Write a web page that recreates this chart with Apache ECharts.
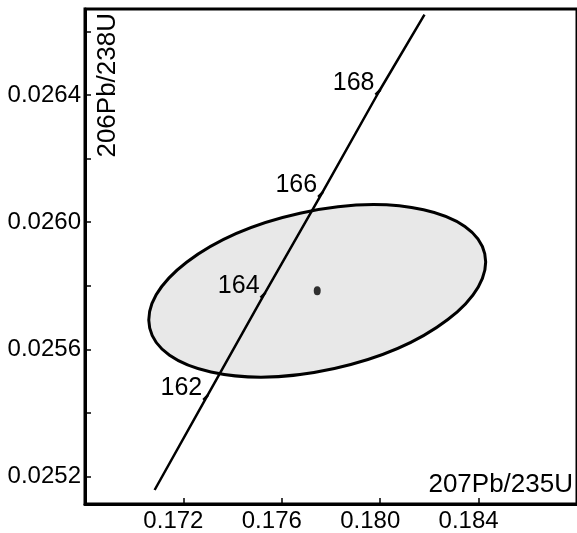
<!DOCTYPE html>
<html>
<head>
<meta charset="utf-8">
<script src="https://cdn.jsdelivr.net/npm/echarts@6/dist/echarts.min.js"></script>
<style>
  html, body { margin: 0; padding: 0; background: #fff; }
  #main { width: 577px; height: 533px; }
</style>
</head>
<body>
<div id="main"></div>
<script>
// concordia line (207Pb/235U, 206Pb/238U)
let lineX = [0.17083, 0.17297, 0.17530, 0.17764, 0.17997, 0.18180];
let lineY = [0.025158, 0.025454, 0.025775, 0.026092, 0.026413, 0.026652];

// age marks on the concordia (Ma)
let ages = [162, 164, 166, 168];
let ageX = [0.17297, 0.17530, 0.17764, 0.17997];
let ageY = [0.025454, 0.025775, 0.026092, 0.026413];

// error ellipse: centre, half widths, correlation
let ellipseCenter = [0.17744, 0.025784];
let ellipseSigma = [0.006846, 0.0002704];
let ellipseRho = 0.337;

// axis ticks
let xLabels = [0.172, 0.176, 0.180, 0.184];
let yLabels = [0.0252, 0.0256, 0.0260, 0.0264];
let yTicks = [0.0252, 0.0254, 0.0256, 0.0258, 0.0260, 0.0262, 0.0264, 0.0266];

let fontName = 'Liberation Sans';
let myChart = echarts.init(document.getElementById('main'));

let linePoints = lineX.map(function (x, i) { return [x, lineY[i]]; });
let agePoints = ageX.map(function (x, i) { return [x, ageY[i], ages[i]]; });

let option = {
    backgroundColor: '#fff',
    animation: false,
    grid: {
        left: 85,
        right: -4,
        top: 9,
        bottom: 29,
        show: true,
        borderColor: '#000',
        borderWidth: 3,
        backgroundColor: 'transparent'
    },
    xAxis: {
        type: 'value',
        min: 0.168,
        max: 0.188,
        name: '207Pb/235U',
        nameLocation: 'end',
        nameGap: -4,
        nameTextStyle: {
            fontFamily: fontName,
            fontSize: 26,
            color: '#000',
            align: 'right',
            verticalAlign: 'bottom',
            padding: [0, 0, 6, 0]
        },
        axisLine: { lineStyle: { color: '#000', width: 3 } },
        axisTick: {
            inside: true,
            length: 6,
            customValues: xLabels,
            lineStyle: { color: '#000', width: 1.5 }
        },
        axisLabel: {
            customValues: xLabels,
            fontFamily: fontName,
            fontSize: 24,
            color: '#000',
            margin: 5,
            padding: [0, 20, 0, 0],
            formatter: function (v) { return v.toFixed(3); }
        },
        splitLine: { show: false }
    },
    yAxis: {
        type: 'value',
        min: 0.025114,
        max: 0.02667,
        name: '206Pb/238U',
        nameLocation: 'end',
        nameGap: -4,
        nameRotate: 90,
        nameTextStyle: {
            fontFamily: fontName,
            fontSize: 26,
            color: '#000',
            align: 'right',
            verticalAlign: 'top',
            padding: [10, 0, 0, 0]
        },
        axisLine: { lineStyle: { color: '#000', width: 3 } },
        axisTick: {
            inside: true,
            length: 6,
            customValues: yTicks,
            lineStyle: { color: '#000', width: 1.5 }
        },
        axisLabel: {
            customValues: yLabels,
            fontFamily: fontName,
            fontSize: 24,
            color: '#000',
            margin: 4,
            padding: [6, 0, 0, 0],
            formatter: function (v) { return v.toFixed(4); }
        },
        splitLine: { show: false }
    },
    series: [
        {
            // error ellipse
            type: 'custom',
            z: 1,
            data: [[ellipseCenter[0], ellipseCenter[1], ellipseSigma[0], ellipseSigma[1], ellipseRho]],
            encode: { x: 0, y: 1 },
            renderItem: function (params, api) {
                let c = api.coord([api.value(0), api.value(1)]);
                let s = api.size([api.value(2), api.value(3)]);
                let rho = api.value(4);
                let a = s[0], b = s[1];
                let sxx = a * a, syy = b * b, sxy = -rho * a * b; // y flips on screen
                let theta = 0.5 * Math.atan2(2 * sxy, sxx - syy);
                let mid = (sxx + syy) / 2;
                let d = Math.sqrt(Math.pow((sxx - syy) / 2, 2) + sxy * sxy);
                return {
                    type: 'ellipse',
                    x: c[0],
                    y: c[1],
                    rotation: -theta,
                    shape: { cx: 0, cy: 0, rx: Math.sqrt(mid + d), ry: Math.sqrt(mid - d) },
                    style: { fill: '#e8e8e8', stroke: '#000', lineWidth: 3 }
                };
            }
        },
        {
            // concordia
            type: 'line',
            z: 2,
            data: linePoints,
            symbol: 'none',
            lineStyle: { color: '#000', width: 2.5 }
        },
        {
            // age marks and labels
            type: 'custom',
            z: 3,
            data: agePoints,
            encode: { x: 0, y: 1 },
            renderItem: function (params, api) {
                let p = api.coord([api.value(0), api.value(1)]);
                return {
                    type: 'group',
                    children: [
                        {
                            type: 'line',
                            shape: { x1: p[0] + 1, y1: p[1] - 1, x2: p[0] - 4, y2: p[1] + 4 },
                            style: { stroke: '#000', lineWidth: 2.5 }
                        },
                        {
                            type: 'text',
                            x: p[0] - 5,
                            y: p[1] - 8,
                            style: {
                                text: String(api.value(2)),
                                font: '25px "' + fontName + '"',
                                fill: '#000',
                                align: 'right',
                                verticalAlign: 'middle'
                            }
                        }
                    ]
                };
            }
        },
        {
            // centre point
            type: 'scatter',
            z: 4,
            data: [ellipseCenter],
            symbol: 'circle',
            symbolSize: [7, 9],
            itemStyle: { color: '#000' }
        }
    ]
};

myChart.setOption(option);
</script>
</body>
</html>
